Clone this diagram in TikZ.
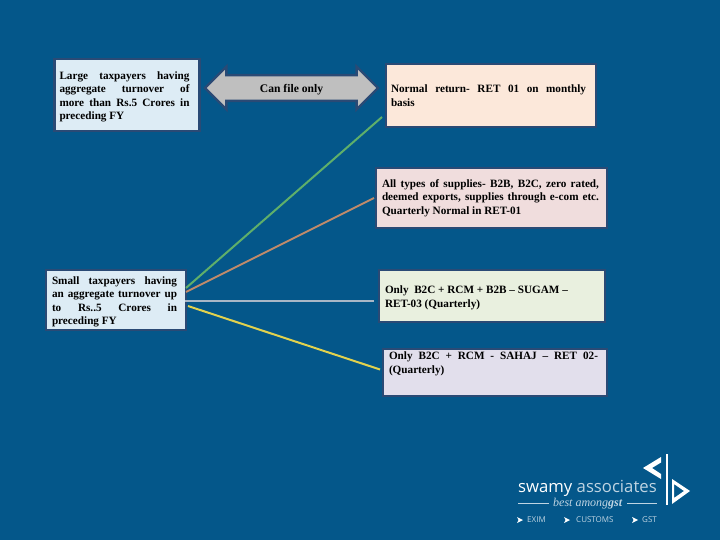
\documentclass[tikz,border=0pt]{standalone}
\usepackage{fontspec}
\setmainfont{Liberation Serif}
\newfontfamily\logofont{Open Sans}
\usetikzlibrary{shapes.arrows}
\definecolor{bgblue}{HTML}{04578A}
\definecolor{edgeblue}{HTML}{2A4A75}
\definecolor{boxblue}{HTML}{DDECF5}
\definecolor{boxpeach}{HTML}{FCE8DA}
\definecolor{boxpink}{HTML}{F0DDDD}
\definecolor{boxgreen}{HTML}{E9F0DF}
\definecolor{boxlav}{HTML}{E2DFEC}
\definecolor{arrowgrey}{HTML}{BFBFBF}
\definecolor{cgreen}{HTML}{5FAF6A}
\definecolor{cbrown}{HTML}{C08A6A}
\definecolor{cgrey}{HTML}{A9B7C6}
\definecolor{cyellow}{HTML}{E2D24E}
\definecolor{logograey}{HTML}{BFD4E2}
\newcommand{\lowerfirst}{\rule{0pt}{11.5pt}}
\tikzset{
  infobox/.style={draw=edgeblue,line width=2.4pt,outer sep=0pt,inner xsep=5pt,inner ysep=0pt,align=justify,font=\fontsize{11.2}{13.4}\selectfont\bfseries,text=black},
  link/.style={line width=2pt},
  logotext/.style={inner sep=0pt,anchor=west,text=white},
}
\begin{document}
\begin{tikzpicture}[x=1pt,y=-1pt]
\useasboundingbox (0,0) rectangle (720,540);
\fill[bgblue] (0,0) rectangle (720,540);

\node[infobox,fill=boxblue,minimum width=145pt,minimum height=72pt,text width=135pt] (large) at (127,95)
  {\rightskip=5pt\lowerfirst Large taxpayers having\linebreak aggregate turnover of\linebreak more than Rs.5 Crores in\linebreak preceding FY\par};
\node[infobox,fill=boxpeach,minimum width=210pt,minimum height=63pt,text width=200pt] (normal) at (491,95.5)
  {\rightskip=5pt Normal return- RET 01 on monthly\linebreak basis\par};
\node[infobox,fill=boxpink,minimum width=231pt,minimum height=60pt,text width=221pt] (alltypes) at (491.5,198)
  {\leftskip=1pt\rightskip=3pt All types of supplies- B2B, B2C, zero rated,\linebreak deemed exports, supplies through e-com etc.\linebreak Quarterly Normal in RET-01\par};
\node[infobox,fill=boxblue,minimum width=140pt,minimum height=60pt,text width=130pt] (small) at (116,300)
  {\leftskip=1pt\rightskip=4pt\lowerfirst Small taxpayers having\linebreak an aggregate turnover up\linebreak to Rs..5 Crores in\linebreak preceding FY\par};
\node[infobox,fill=boxgreen,minimum width=226pt,minimum height=52pt,text width=216pt] (sugam) at (492,296)
  {\leftskip=1pt\lowerfirst Only\ \ B2C + RCM + B2B -- SUGAM --\\ RET-03 (Quarterly)\par};
\node[infobox,fill=boxlav,minimum width=224pt,minimum height=47pt,text width=214pt] (sahaj) at (495,372.5)
  {\leftskip=1pt\rightskip=4pt Only B2C + RCM - SAHAJ -- RET 02-\linebreak (Quarterly)\par\vspace{17pt}};

\node[double arrow,double arrow head extend=8.5pt,
  draw=edgeblue,line width=2.4pt,fill=arrowgrey,minimum height=173pt,inner xsep=0pt,inner ysep=4.6pt,outer sep=0pt,
  font=\fontsize{11.6}{12}\selectfont\bfseries] (canfile) at (291.5,88) {\rule{0pt}{11.7pt}Can file only};

\draw[link,cgreen] ([shift={(0,18)}]small.north east) -- ([shift={(-4,-10)}]normal.south west);
\draw[link,cbrown] ([shift={(0,22)}]small.north east) -- ([shift={(-2,30)}]alltypes.north west);
\draw[link,cgrey] ([shift={(-1,1)}]small.east) -- ([shift={(-5,1)}]small.east -| sugam.west);
\draw[link,cyellow] ([shift={(2,6)}]small.east) -- ([shift={(-3,-3)}]sahaj.west);

% logo
\node[logotext,font=\logofont\fontsize{16.7}{20}\selectfont] (swamy) at (518,488) {swamy \textcolor{logograey}{associates}};
\node[logotext,text=logograey,font=\fontsize{12}{12}\selectfont\itshape] (best) at (553,504) {best among\textbf{gst}};
\draw[logograey,line width=.6pt] (518,503.5) -- (549,503.5);
\draw[logograey,line width=.6pt] (627,503.5) -- (657,503.5);
\node[logotext,text=logograey,font=\logofont\fontsize{8}{9}\selectfont] (exim) at (527,520) {EXIM};
\node[logotext,text=logograey,font=\logofont\fontsize{8}{9}\selectfont] (customs) at (576,520) {CUSTOMS};
\node[logotext,text=logograey,font=\logofont\fontsize{8}{9}\selectfont] (gst) at (642,520) {GST};
\fill[white] (517,517) -- (523,520) -- (517,523) -- (518.5,520) -- cycle;
\fill[white] (564,517) -- (570,520) -- (564,523) -- (565.5,520) -- cycle;
\fill[white] (632,517) -- (638,520) -- (632,523) -- (633.5,520) -- cycle;
\fill[white] (665.5,454) -- (668,454) -- (668,505) -- (665.5,505) -- cycle;
\fill[white] (643,468) -- (661,457) -- (661,462.5) -- (652,468) -- (661,474) -- (661,479) -- cycle;
\fill[white,even odd rule] (690,491) -- (672,479) -- (672,504) -- cycle (684,491) -- (674,484) -- (674,498) -- cycle;
\end{tikzpicture}
\end{document}
